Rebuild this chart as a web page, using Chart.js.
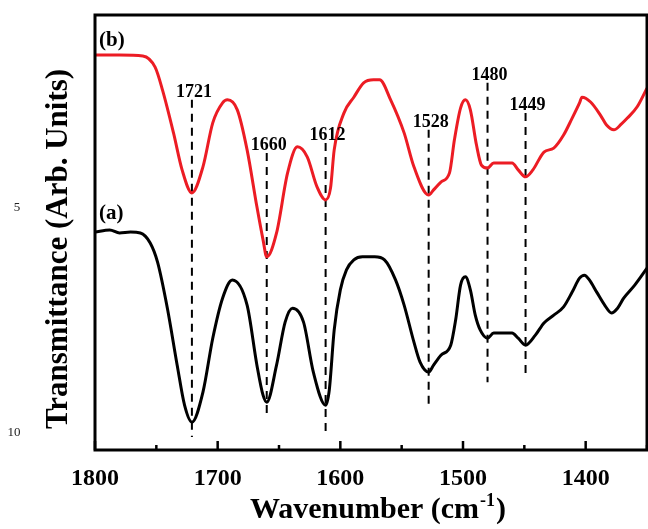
<!DOCTYPE html>
<html>
<head>
<meta charset="utf-8">
<script src="https://cdn.jsdelivr.net/npm/chart.js@4.4.1/dist/chart.umd.min.js"></script>
<style>
  html, body { margin: 0; padding: 0; background: #fff; overflow: hidden; }
  #wrap { width: 648px; height: 529px; position: relative; }
</style>
</head>
<body>
<div id="wrap"><canvas id="ftir"></canvas></div>
<script>
const SERIF = '"Liberation Serif", "Times New Roman", serif';

// spectrum (b), red curve
const waveB = [1800, 1780, 1761, 1751, 1745, 1736, 1729, 1721, 1712, 1704, 1696, 1692, 1684, 1676, 1668, 1663, 1660, 1652, 1643, 1635, 1627, 1619, 1612, 1608, 1605, 1597, 1589, 1581, 1573, 1568, 1559, 1548, 1540, 1528, 1524, 1518, 1511, 1507, 1502, 1498, 1494, 1489, 1485, 1480, 1475, 1460, 1455, 1449, 1443, 1434, 1426, 1418, 1411, 1405, 1403, 1396, 1388, 1383, 1377, 1371, 1366, 1358, 1350];
const transB = [90.8, 90.8, 90.6, 88.0, 82.8, 72.9, 64.4, 59.1, 65.1, 75.2, 79.8, 80.5, 78.2, 69.0, 55.9, 48.3, 44.4, 49.9, 63.7, 69.7, 67.4, 60.5, 57.5, 60.2, 69.0, 77.5, 81.1, 84.4, 85.1, 85.1, 80.5, 72.9, 65.1, 58.6, 59.8, 61.6, 63.7, 71.3, 78.6, 80.5, 78.2, 70.1, 65.5, 64.8, 66.0, 66.0, 64.4, 62.8, 64.4, 68.5, 69.4, 72.4, 76.3, 79.8, 81.1, 80.0, 77.0, 74.7, 73.6, 74.9, 76.3, 78.9, 83.2];

// spectrum (a), black curve
const waveA = [1800, 1788, 1780, 1771, 1763, 1755, 1749, 1741, 1733, 1727, 1721, 1712, 1704, 1696, 1688, 1676, 1668, 1663, 1660, 1652, 1645, 1639, 1630, 1622, 1612, 1609, 1605, 1600, 1595, 1589, 1582, 1572, 1564, 1555, 1548, 1540, 1535, 1528, 1524, 1518, 1510, 1506, 1502, 1498, 1494, 1490, 1486, 1480, 1475, 1460, 1455, 1449, 1441, 1434, 1426, 1418, 1411, 1405, 1401, 1397, 1391, 1384, 1379, 1374, 1369, 1360, 1350];
const transA = [50.1, 50.6, 49.9, 50.1, 49.9, 47.6, 43.2, 32.6, 19.5, 10.3, 6.4, 13.3, 25.7, 34.9, 39.1, 33.3, 19.5, 12.6, 11.0, 19.5, 29.4, 32.6, 29.4, 17.9, 10.3, 13.8, 27.6, 36.8, 41.4, 43.7, 44.4, 44.4, 43.7, 39.1, 33.3, 24.8, 20.2, 17.9, 19.5, 21.8, 24.1, 29.9, 37.9, 39.8, 36.8, 31.0, 27.6, 25.7, 26.9, 26.9, 25.7, 24.1, 26.4, 29.2, 31.0, 32.9, 36.3, 39.5, 40.2, 39.1, 36.3, 33.1, 31.5, 32.6, 34.9, 37.9, 41.8];

// marked peaks (dashed guide lines)
const peakWave = [1721, 1660, 1612, 1528, 1480, 1449];
const peakTop = [80.5, 68.3, 70.6, 73.6, 84.4, 77.5];
const peakBottom = [3.0, 8.0, 3.2, 10.3, 15.6, 17.2];

const xTicks = [1800, 1700, 1600, 1500, 1400];

function toPoints(xs, ys) {
    return xs.map((v, i) => ({x: v, y: ys[i]}));
}

const datasets = [
    {data: toPoints(waveB, transB), borderColor: '#ec1c24', borderWidth: 3, cubicInterpolationMode: 'monotone'},
    {data: toPoints(waveA, transA), borderColor: '#000000', borderWidth: 3, cubicInterpolationMode: 'monotone'}
];
peakWave.forEach((w, i) => { // one short dashed dataset per peak
    datasets.push({
        data: [{x: w, y: peakTop[i]}, {x: w, y: peakBottom[i]}],
        borderColor: '#000000', borderWidth: 2, borderDash: [8, 6]
    });
});

const decorations = {
    id: 'decorations',
    afterDraw(chart) {
        const {ctx, chartArea: a, scales: {x, y}} = chart;
        ctx.save();
        ctx.fillStyle = '#000';
        ctx.strokeStyle = '#000';

        // frame
        ctx.lineWidth = 3;
        ctx.strokeRect(a.left, a.top, a.right - a.left, a.bottom - a.top);

        // inward tick marks on the bottom axis
        ctx.lineWidth = 2.5;
        x.ticks.forEach(t => {
            const px = x.getPixelForValue(t.value);
            const len = xTicks.includes(t.value) ? 9 : 5;
            ctx.beginPath();
            ctx.moveTo(px, a.bottom);
            ctx.lineTo(px, a.bottom - len);
            ctx.stroke();
        });

        // peak labels
        ctx.font = 'bold 18px ' + SERIF;
        ctx.textAlign = 'center';
        ctx.textBaseline = 'alphabetic';
        peakWave.forEach((w, i) => {
            ctx.fillText(String(w), x.getPixelForValue(w) + 2, y.getPixelForValue(peakTop[i]) - 3);
        });

        // curve tags
        ctx.font = 'bold 21px ' + SERIF;
        ctx.textAlign = 'left';
        ctx.fillText('(b)', a.left + 4, y.getPixelForValue(transB[0]) - 9);
        ctx.fillText('(a)', a.left + 4, y.getPixelForValue(transA[0]) - 13);

        // y title
        ctx.save();
        ctx.translate(67, 249);
        ctx.rotate(-Math.PI / 2);
        ctx.font = 'bold 31px ' + SERIF;
        ctx.textAlign = 'center';
        ctx.fillText('Transmittance (Arb. Units)', 0, 0);
        ctx.restore();

        // x title with superscript
        const main = 'Wavenumber (cm', sup = '-1', end = ')';
        ctx.font = 'bold 30px ' + SERIF;
        const w1 = ctx.measureText(main).width, w3 = ctx.measureText(end).width;
        ctx.font = 'bold 18px ' + SERIF;
        const w2 = ctx.measureText(sup).width;
        let sx = 377 - (w1 + w2 + w3) / 2;
        const base = 518;
        ctx.font = 'bold 30px ' + SERIF;
        ctx.fillText(main, sx, base);
        ctx.font = 'bold 18px ' + SERIF;
        ctx.fillText(sup, sx + w1 + 1, base - 12);
        ctx.font = 'bold 30px ' + SERIF;
        ctx.fillText(end, sx + w1 + w2 + 2, base);

        // stray marks left of the axis in the original figure
        ctx.font = '13px ' + SERIF;
        ctx.fillStyle = '#222';
        ctx.textAlign = 'center';
        ctx.textBaseline = 'middle';
        ctx.fillText('5', 17, 208);
        ctx.fillText('10', 14, 433);
        ctx.restore();
    }
};

new Chart(document.getElementById('ftir'), {
    type: 'line',
    data: {datasets: datasets},
    options: {
        responsive: true,
        maintainAspectRatio: false,
        animation: false,
        layout: {padding: {left: 95, top: 15, right: 1, bottom: 0}},
        elements: {point: {radius: 0}, line: {fill: false}},
        plugins: {legend: {display: false}, tooltip: {enabled: false}},
        scales: {
            x: {
                type: 'linear',
                reverse: true,
                min: 1350,
                max: 1800,
                afterFit: s => { // fixed axis band, no label overhang padding
                    s.height = 79;
                    s.paddingLeft = 0;
                    s.paddingRight = 0;
                },
                grid: {display: false, drawTicks: false},
                border: {display: false},
                ticks: {
                    stepSize: 50,
                    autoSkip: false,
                    maxRotation: 0,
                    padding: 14,
                    color: '#000',
                    font: {family: SERIF, size: 24, weight: 'bold'},
                    callback: v => xTicks.includes(v) ? String(v) : ''
                }
            },
            y: {
                display: false,
                min: 0,
                max: 100
            }
        }
    },
    plugins: [decorations]
});
</script>
</body>
</html>
